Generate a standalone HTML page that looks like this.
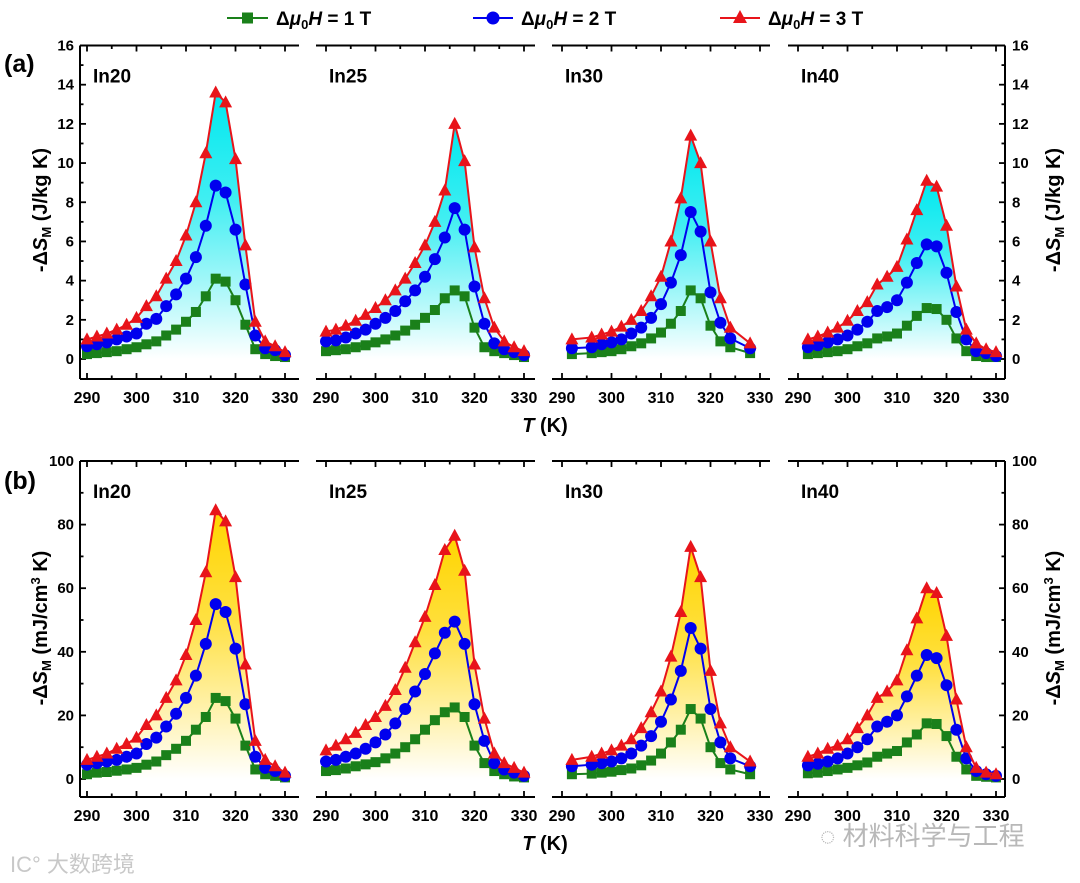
<!DOCTYPE html>
<html><head><meta charset="utf-8">
<style>
html,body{margin:0;padding:0;background:#fff;}
svg{display:block;font-family:"Liberation Sans","Noto Sans CJK SC",sans-serif;}
</style></head>
<body>
<svg id="chart" width="1080" height="883" viewBox="0 0 1080 883" xmlns="http://www.w3.org/2000/svg">
<defs>
<linearGradient id="gradA" x1="0" y1="0" x2="0" y2="1"><stop offset="0" stop-color="#00e8ef"/><stop offset="0.4" stop-color="#40eef2"/><stop offset="1" stop-color="#ffffff"/></linearGradient>
<linearGradient id="gradB" x1="0" y1="0" x2="0" y2="1"><stop offset="0" stop-color="#ffd500"/><stop offset="0.4" stop-color="#ffe040"/><stop offset="1" stop-color="#ffffff"/></linearGradient>
</defs>
<g font-weight="bold" font-size="19">
<g><line x1="227" y1="18" x2="268" y2="18" stroke="#1a801a" stroke-width="2"/><rect x="242" y="12.5" width="11" height="11" fill="#1a801a"/><text x="276" y="25">Δ<tspan font-style="italic">μ</tspan><tspan font-size="13" dy="4">0</tspan><tspan dy="-4" font-style="italic">H</tspan> = 1 T</text></g>
<g><line x1="473" y1="18" x2="513" y2="18" stroke="#0000ee" stroke-width="2"/><circle cx="493" cy="18" r="6.5" fill="#0000ee"/><text x="521" y="25">Δ<tspan font-style="italic">μ</tspan><tspan font-size="13" dy="4">0</tspan><tspan dy="-4" font-style="italic">H</tspan> = 2 T</text></g>
<g><line x1="720" y1="18" x2="760" y2="18" stroke="#e8141a" stroke-width="2"/><polygon points="740,10 747,23 733,23" fill="#e8141a"/><text x="768" y="25">Δ<tspan font-style="italic">μ</tspan><tspan font-size="13" dy="4">0</tspan><tspan dy="-4" font-style="italic">H</tspan> = 3 T</text></g>
</g>
<text x="4" y="72" font-size="25" font-weight="bold">(a)</text>
<text x="4" y="489" font-size="25" font-weight="bold">(b)</text>
<text x="545" y="432" font-size="20" font-weight="bold" text-anchor="middle"><tspan font-style="italic">T</tspan> (K)</text>
<text x="545" y="850" font-size="20" font-weight="bold" text-anchor="middle"><tspan font-style="italic">T</tspan> (K)</text>
<text transform="translate(47,210) rotate(-90)" font-size="20" font-weight="bold" text-anchor="middle">-Δ<tspan font-style="italic">S</tspan><tspan font-size="13" dy="4">M</tspan><tspan dy="-4"> (J/kg K)</tspan></text>
<text transform="translate(1060,210) rotate(-90)" font-size="20" font-weight="bold" text-anchor="middle">-Δ<tspan font-style="italic">S</tspan><tspan font-size="13" dy="4">M</tspan><tspan dy="-4"> (J/kg K)</tspan></text>
<text transform="translate(47,628) rotate(-90)" font-size="20" font-weight="bold" text-anchor="middle">-Δ<tspan font-style="italic">S</tspan><tspan font-size="13" dy="4">M</tspan><tspan dy="-4"> (mJ/cm</tspan><tspan font-size="13" dy="-7">3</tspan><tspan dy="7"> K)</tspan></text>
<text transform="translate(1060,628) rotate(-90)" font-size="20" font-weight="bold" text-anchor="middle">-Δ<tspan font-style="italic">S</tspan><tspan font-size="13" dy="4">M</tspan><tspan dy="-4"> (mJ/cm</tspan><tspan font-size="13" dy="-7">3</tspan><tspan dy="7"> K)</tspan></text>
<text x="10" y="872" font-size="22" fill="#c8c8c8">IC° 大数跨境</text>
<text x="820" y="845" font-size="26" fill="#b8b8b8">◌ 材料科学与工程</text>
<g id="plots"></g>
</svg>
<script>
// ---- data ----
const panelNames = ["In20", "In25", "In30", "In40"];
const tempsIn20 = [290,292,294,296,298,300,302,304,306,308,310,312,314,316,318,320,322,324,326,328,330];
const tempsIn25 = [290,292,294,296,298,300,302,304,306,308,310,312,314,316,318,320,322,324,326,328,330];
const tempsIn30 = [292,296,298,300,302,304,306,308,310,312,314,316,318,320,322,324,328];
const tempsIn40 = [292,294,296,298,300,302,304,306,308,310,312,314,316,318,320,322,324,326,328,330];
// (a) J/kg K
const a1T_In20 = [0.25,0.3,0.35,0.4,0.5,0.6,0.75,0.9,1.2,1.5,1.9,2.4,3.2,4.1,3.95,3.0,1.75,0.5,0.25,0.15,0.1];
const a2T_In20 = [0.65,0.75,0.85,1.0,1.15,1.3,1.8,2.05,2.7,3.3,4.1,5.2,6.8,8.85,8.5,6.6,3.8,1.2,0.55,0.45,0.2];
const a3T_In20 = [1.0,1.15,1.3,1.5,1.75,2.1,2.7,3.2,4.1,5.0,6.3,8.0,10.5,13.6,13.1,10.2,5.8,1.9,0.9,0.65,0.35];
const a1T_In25 = [0.4,0.45,0.5,0.6,0.7,0.85,1.0,1.2,1.45,1.75,2.1,2.5,3.1,3.5,3.2,1.6,0.6,0.4,0.3,0.2,0.1];
const a2T_In25 = [0.9,0.95,1.1,1.3,1.5,1.8,2.1,2.45,2.95,3.5,4.2,5.1,6.2,7.7,6.6,3.7,1.8,0.8,0.5,0.35,0.2];
const a3T_In25 = [1.4,1.5,1.7,1.95,2.25,2.6,3.0,3.5,4.1,4.9,5.8,7.0,8.6,12.0,10.1,5.7,3.1,1.6,0.9,0.6,0.4];
const a1T_In30 = [0.25,0.3,0.35,0.4,0.5,0.65,0.8,1.05,1.35,1.8,2.45,3.5,3.1,1.7,0.9,0.6,0.3];
const a2T_In30 = [0.55,0.6,0.75,0.85,1.0,1.3,1.6,2.1,2.8,3.9,5.3,7.5,6.5,3.4,1.85,1.05,0.55];
const a3T_In30 = [1.0,1.1,1.25,1.4,1.65,2.0,2.45,3.2,4.2,6.0,8.2,11.4,10.0,6.0,3.1,1.6,0.8];
const a1T_In40 = [0.25,0.3,0.35,0.4,0.5,0.65,0.8,1.05,1.15,1.3,1.7,2.2,2.6,2.55,2.0,1.05,0.4,0.15,0.1,0.1];
const a2T_In40 = [0.6,0.7,0.85,1.0,1.2,1.5,1.9,2.45,2.65,3.0,3.9,4.9,5.85,5.75,4.4,2.4,1.0,0.4,0.3,0.15];
const a3T_In40 = [1.0,1.15,1.35,1.6,1.95,2.45,2.9,3.8,4.2,4.7,6.1,7.6,9.1,8.8,6.8,3.7,1.5,0.8,0.5,0.35];
// (b) mJ/cm3 K
const b1T_In20 = [1.5,2,2.2,2.6,3,3.5,4.5,5.5,7.5,9.5,12,15.5,19.5,25.5,24.5,19,10.5,3,1.5,1,0.5];
const b2T_In20 = [4.5,5,5.5,6,7,8,11,13,16.5,20.5,25.5,32.5,42.5,55,52.5,41,23.5,7,3.5,2.5,1];
const b3T_In20 = [6,7,8,9.5,11,13,17,20,25.5,31,39,50,65,84.5,81,63.5,36,12,6,4,2];
const b1T_In25 = [2.5,2.8,3.3,4,4.6,5.3,6.5,8,10,12.5,15.5,18.5,21,22.5,19.5,10.5,5,2.5,1.5,0.8,0.5];
const b2T_In25 = [5.5,6,7,8,9.5,11.5,14,17.5,22,27.5,33,39.5,46,49.5,42.5,23.5,12,5,3,2,1];
const b3T_In25 = [9,10.5,12.5,14.5,17,19.5,23,28,35,43,51,61,72,76.5,65.5,36,19,8,5,3.5,2];
const b1T_In30 = [1.5,1.7,2,2.3,2.8,3.3,4.3,5.8,8,11.5,15.5,22,19,10,5,3,1.5];
const b2T_In30 = [4,4.5,5,5.5,6.5,8,10.5,13.5,18,25,34,47.5,41,22,11.5,6.5,4];
const b3T_In30 = [6,7,8,9,10.5,12.5,16,21,27.5,38.5,52.5,73,63.5,34,17.5,10,5.5];
const b1T_In40 = [1.8,2,2.5,3,3.5,4.3,5.2,7,8,8.8,11.5,14,17.5,17.3,13.5,7,3,1,0.7,0.5];
const b2T_In40 = [4.3,4.8,5.5,6.5,8,10,12.5,16.5,18,20,26,32.5,39,38,29.5,15.5,6.5,2.5,1.5,1];
const b3T_In40 = [7,8,9.5,10.5,12.5,16,20,25.5,27.5,31,40.5,50.5,60,58.5,45,25,10,3.5,2,1.5];
const xTicks = [290,300,310,320,330];
const yTicksA = [0,2,4,6,8,10,12,14,16];
const yTicksB = [0,20,40,60,80,100];

const temps = [tempsIn20,tempsIn25,tempsIn30,tempsIn40];
const dataA = [[a1T_In20,a2T_In20,a3T_In20],[a1T_In25,a2T_In25,a3T_In25],[a1T_In30,a2T_In30,a3T_In30],[a1T_In40,a2T_In40,a3T_In40]];
const dataB = [[b1T_In20,b2T_In20,b3T_In20],[b1T_In25,b2T_In25,b3T_In25],[b1T_In30,b2T_In30,b3T_In30],[b1T_In40,b2T_In40,b3T_In40]];

// ---- layout ----
const NS = "http://www.w3.org/2000/svg";
const root = document.getElementById("plots");
const x290 = [87, 326, 562, 798];
const frameL = [80, 316, 552, 788];
const frameR = [299, 535, 770, 1005];
const KPX = 4.95;
const colors = ["#1a801a", "#0000ee", "#e8141a"];
const rows = [
  {id:"a", top:45.5, y0:359, bottom:379, max:16, ticks:yTicksA, minor:1, data:dataA, grad:"url(#gradA)", tickLbl:392},
  {id:"b", top:461, y0:779, bottom:797, max:100, ticks:yTicksB, minor:10, data:dataB, grad:"url(#gradB)", tickLbl:810}
];
function mk(tag, attrs, parent){
  const e = document.createElementNS(NS, tag);
  for (const k in attrs) e.setAttribute(k, attrs[k]);
  (parent||root).appendChild(e);
  return e;
}
rows.forEach(r => {
  const yS = v => r.y0 - v * (r.y0 - r.top) / r.max;
  for (let p = 0; p < 4; p++) {
    const xS = t => x290[p] + (t - 290) * KPX;
    const g = mk("g", {});
    
    
    const top = mk("line", {x1:frameL[p], x2:frameR[p], y1:r.top, y2:r.top, stroke:"#000", "stroke-width":2}, g);
    
    
    const bot = mk("line", {x1:frameL[p], x2:frameR[p], y1:r.bottom, y2:r.bottom, stroke:"#000", "stroke-width":2}, g);
    
    
    for (let t = 290; t <= 330; t += 5) {
      const len = (t % 10 === 0) ? 6 : 3.5;
      mk("line", {x1:xS(t), x2:xS(t), y1:r.bottom, y2:r.bottom - len, stroke:"#000", "stroke-width":1.8}, g);
      mk("line", {x1:xS(t), x2:xS(t), y1:r.top, y2:r.top + len, stroke:"#000", "stroke-width":1.8}, g);
    }
    xTicks.forEach(t => {
      const tx = mk("text", {x:xS(t), y:r.tickLbl + 11, "text-anchor":"middle", "font-size":16, "font-weight":"bold"}, g);
      
      
      tx.textContent = t;
    });
    if (p === 0 || p === 3) {
      const ax = p === 0 ? frameL[p] : frameR[p];
      const dir = p === 0 ? 1 : -1;
      const yl = mk("line", {x1:ax, x2:ax, y1:r.top, y2:r.bottom, stroke:"#000", "stroke-width":2}, g);
      
      
      for (let v = 0; v <= r.max; v += r.minor) {
        const major = r.ticks.indexOf(v) >= 0;
        mk("line", {x1:ax, x2:ax + dir * (major ? 6 : 3.5), y1:yS(v), y2:yS(v), stroke:"#000", "stroke-width":1.8}, g);
      }
      r.ticks.forEach(v => {
        const tx = mk("text", {x: p === 0 ? ax - 6 : ax + 7, y: yS(v) + 5, "text-anchor": p === 0 ? "end" : "start", "font-size":15, "font-weight":"bold"}, g);
        
        
        tx.textContent = v;
      });
    }
    const lab = mk("text", {x:frameL[p] + 13, y:r.top + 37, "font-size":19, "font-weight":"bold"}, g);
    
    
    lab.textContent = panelNames[p];
    const T = temps[p];
    const d3 = r.data[p][2];
    let pts = T.map((t,i) => xS(t) + "," + yS(d3[i])).join(" ");
    pts += " " + xS(T[T.length-1]) + "," + yS(0) + " " + xS(T[0]) + "," + yS(0);
    const fill = mk("polygon", {points:pts, fill:r.grad}, g);
    
    
    for (let s = 0; s < 3; s++) {
      const vals = r.data[p][s];
      const sg = mk("g", {}, g);
      
      
      mk("polyline", {points:T.map((t,i) => xS(t) + "," + yS(vals[i])).join(" "), fill:"none", stroke:colors[s], "stroke-width":2}, sg);
      T.forEach((t,i) => {
        const x = xS(t), y = yS(vals[i]);
        let m;
        if (s === 0) m = mk("rect", {x:x-5, y:y-5, width:10, height:10, fill:colors[s]}, sg);
        else if (s === 1) m = mk("circle", {cx:x, cy:y, r:6, fill:colors[s]}, sg);
        else m = mk("polygon", {points:`${x},${y-7} ${x+6.5},${y+5} ${x-6.5},${y+5}`, fill:colors[s]}, sg);
        
        
      });
    }
  }
});
</script>
</body></html>
